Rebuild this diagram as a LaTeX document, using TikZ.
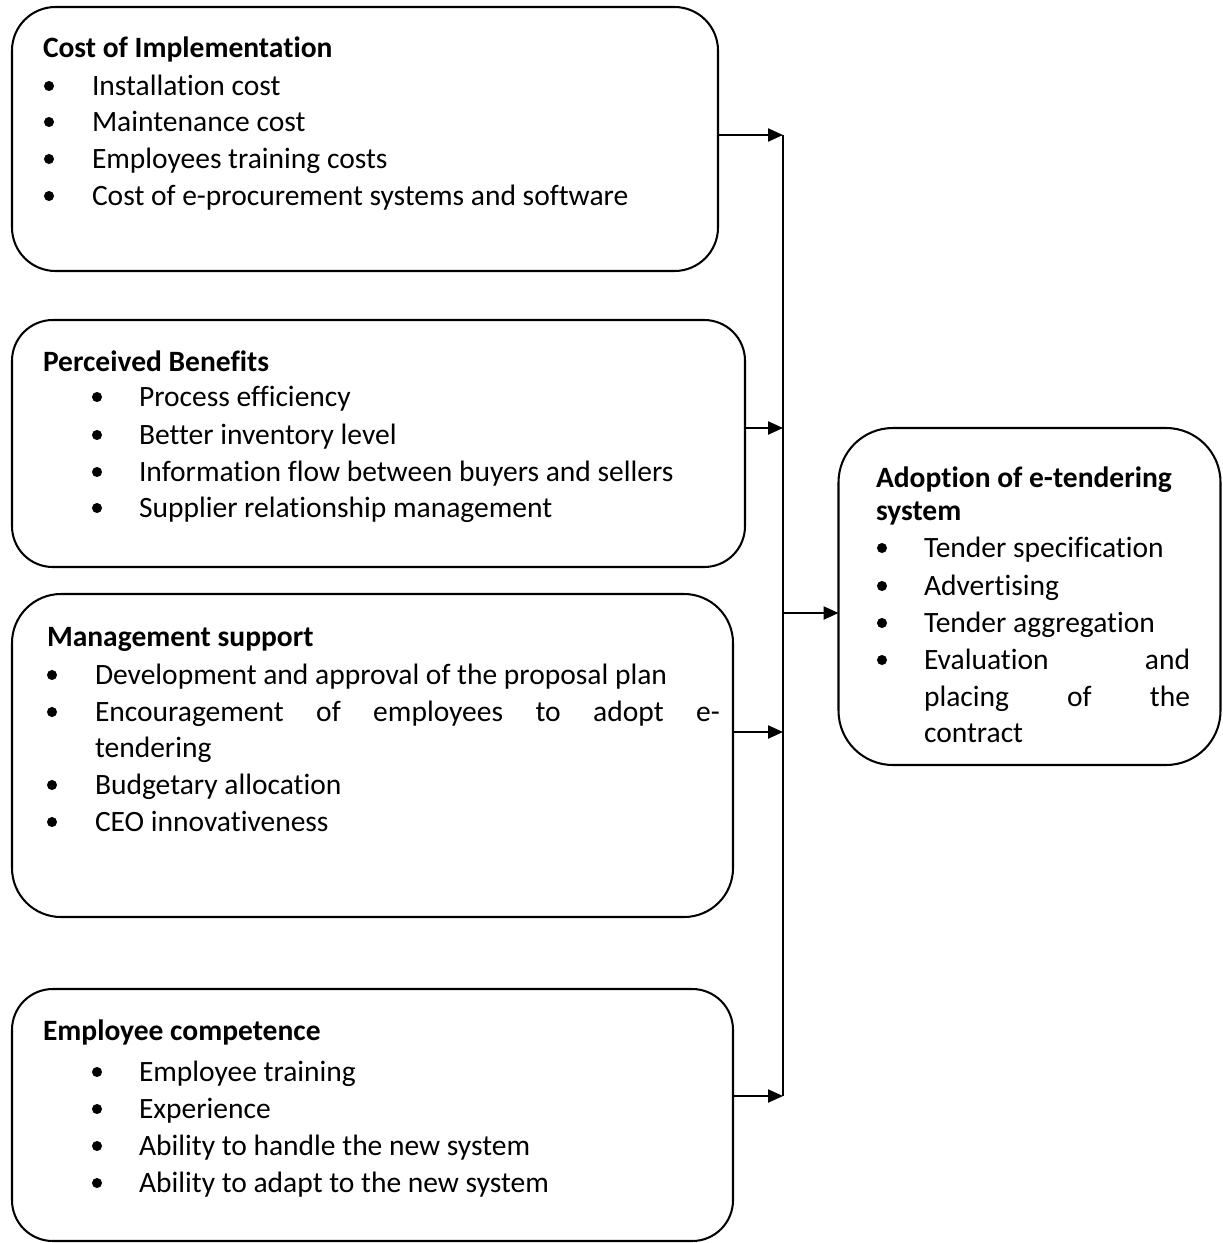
\documentclass[tikz,border=0pt]{standalone}
\usepackage{fontspec}
\setmainfont{Carlito}[Ligatures={NoCommon}]
\usetikzlibrary{arrows.meta}
\newlength\pxu
\setlength\pxu{0.3676pt}
\begin{document}
\begin{tikzpicture}[x=\pxu,y=-\pxu,
  font=\fontsize{10.85pt}{13.2pt}\selectfont,
  line width=0.75pt,
  box/.style={draw,inner sep=0pt,outer sep=0pt,rectangle},
  txt/.style={anchor=base west,inner sep=0pt,outer sep=0pt},
  hd/.style={txt,font=\fontsize{10.85pt}{13.2pt}\selectfont\bfseries},
  arr/.style={-{Triangle[length=5.5pt,width=4.8pt]}},
  bul/.style={circle,fill,inner sep=0pt,minimum size=3.7pt}]
\useasboundingbox (0,0) rectangle (1222,1243);
% boxes
\node[box,rounded corners=16pt,minimum width=706\pxu,minimum height=264\pxu] (b1) at (365,139) {};
\node[box,rounded corners=15pt,minimum width=733\pxu,minimum height=247\pxu] (b2) at (378.5,443.5) {};
\node[box,rounded corners=18pt,minimum width=721\pxu,minimum height=323\pxu] (b3) at (372.5,755.5) {};
\node[box,rounded corners=15pt,minimum width=721\pxu,minimum height=252\pxu] (b4) at (372.5,1115) {};
\node[box,rounded corners=20pt,minimum width=382\pxu,minimum height=337\pxu] (rb) at (1029.5,596.5) {};
% box 1
\node[hd] (h1) at (43,57) {Cost of Implementation};
\foreach \y/\t [count=\i] in {86/Installation cost,122/Maintenance cost,159/Employees training costs,196/Cost of e-procurement systems and software}{
  \node[bul] (p1b\i) at (49,\y) {};
  \node[txt] (p1t\i) at (92,\y+9) {\t};
}
% box 2
\node[hd] (h2) at (43,371) {Perceived Benefits};
\foreach \y/\t [count=\i] in {397/Process efficiency,435/Better inventory level,472/Information flow between buyers and sellers,508/Supplier relationship management}{
  \node[bul] (p2b\i) at (97,\y) {};
  \node[txt] (p2t\i) at (139,\y+9) {\t};
}
% box 3
\node[hd] (h3) at (47,646) {Management support};
\node[bul] (p3b1) at (52,675) {};
\node[txt] (p3t1) at (95,684) {Development and approval of the proposal plan};
\node[bul] (p3b2) at (52,712) {};
\node[txt] (p3t2) at (95,721) {\hbox to 229.7pt{Encouragement\hfill of\hfill employees\hfill to\hfill adopt\hfill e-}};
\node[txt] (p3t2b) at (95,757) {tendering};
\node[bul] (p3b3) at (52,785) {};
\node[txt] (p3t3) at (95,794) {Budgetary allocation};
\node[bul] (p3b4) at (52,822) {};
\node[txt] (p3t4) at (95,831) {CEO innovativeness};
% box 4
\node[hd] (h4) at (43,1040) {Employee competence};
\foreach \y/\t [count=\i] in {1072/Employee training,1109/Experience,1146/Ability to handle the new system,1183/Ability to adapt to the new system}{
  \node[bul] (p4b\i) at (97,\y) {};
  \node[txt] (p4t\i) at (139,\y+9) {\t};
}
% right box
\node[hd] (h5) at (876,487) {Adoption of e-tendering};
\node[hd] (h5b) at (876,520) {system};
\foreach \y/\t [count=\i] in {548/Tender specification,586/Advertising,623/Tender aggregation}{
  \node[bul] (p5b\i) at (882,\y) {};
  \node[txt] (p5t\i) at (924,\y+9) {\t};
}
\node[bul] (p5b4) at (882,660) {};
\node[txt] (p5t4) at (924,669) {\hbox to 97.8pt{Evaluation\hfill and}};
\node[txt] (p5t4b) at (924,706) {\hbox to 97.8pt{placing\hfill of\hfill the}};
\node[txt] (p5t4c) at (924,742) {contract};
% connectors
\coordinate (j1) at (783,135);
\coordinate (j2) at (783,428);
\coordinate (j3) at (783,732);
\coordinate (j4) at (783,1096);
\coordinate (jm) at (783,613);
\draw (j1) -- (j4);
\draw[arr] (b1.east |- j1) -- (j1);
\draw[arr] (b2.east |- j2) -- (j2);
\draw[arr] (b3.east |- j3) -- (j3);
\draw[arr] (b4.east |- j4) -- (j4);
\draw[arr] (jm) -- (rb.west |- jm);
\end{tikzpicture}
\end{document}
